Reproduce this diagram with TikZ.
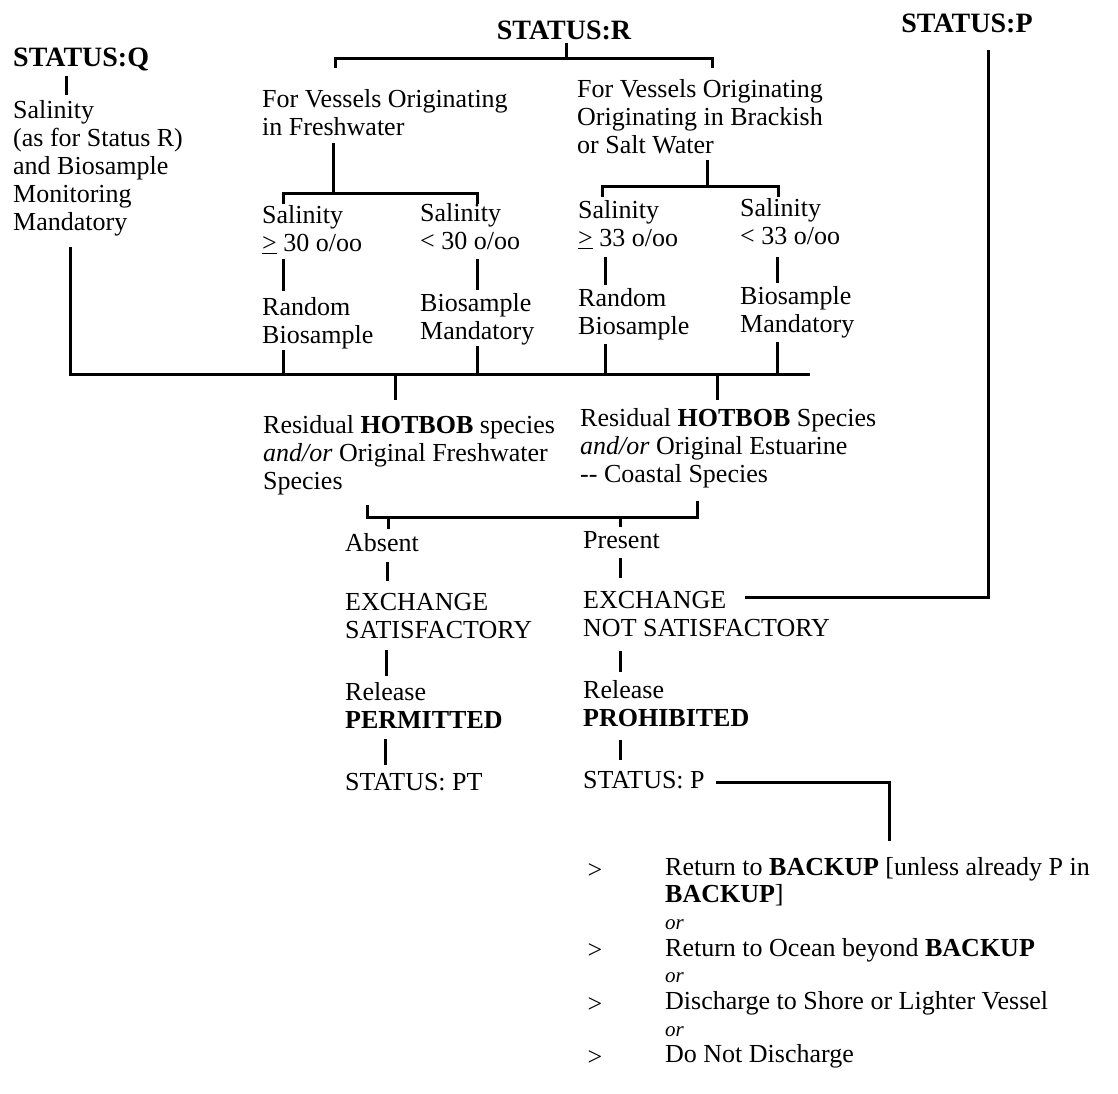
\documentclass[tikz,border=0pt]{standalone}
\usepackage{fontspec}
\setmainfont{Liberation Serif}
\usetikzlibrary{calc}
\begin{document}
\begin{tikzpicture}[x=1pt,y=-1pt,
  ln/.style={line width=3pt, line join=miter},
  txt/.style={anchor=north west, inner sep=0pt, align=left, font=\fontsize{26}{28}\selectfont},
  lst/.style={anchor=north west, inner sep=0pt, align=left, font=\fontsize{26}{26.7}\selectfont},
  hd/.style={inner sep=0pt, font=\fontsize{28}{30}\selectfont\bfseries}]
\useasboundingbox[fill=white] (0,0) rectangle (1118,1093);

% ---------- headings
\node[hd, anchor=west] (sq) at (13,59) {STATUS:Q};
\node[hd] (sr) at (564,30) {STATUS:R};
\node[hd] (sp) at (967,23) {STATUS:P};

% ---------- Status Q branch
\node[txt] (qtxt) at (13,99) {\strut Salinity\\(as for Status R)\\and Biosample\\Monitoring\\Mandatory};
\coordinate (q1) at (66,76);
\coordinate (q2) at (66,95);
\draw[ln] (q1) -- (q2);

% ---------- Status R branch
\node[txt] (fw) at (262,88) {\strut For Vessels Originating\\in Freshwater};
\node[txt] (br) at (577,78) {\strut For Vessels Originating\\Originating in Brackish\\or Salt Water};
\coordinate (r0) at (566,43);
\coordinate (rb) at (566,58);
\coordinate (rbl) at (335,58);
\coordinate (rbr) at (712,58);
\draw[ln] (r0) -- (rb);
\draw[ln] ($(rbl)+(0,10)$) -- (rbl) -- (rbr) -- ($(rbr)+(0,10)$);

% freshwater split
\coordinate (f0) at (333,143);
\coordinate (fb) at (333,193);
\coordinate (fbl) at (283,193);
\coordinate (fbr) at (477,193);
\draw[ln] (f0) -- (fb);
\draw[ln] ($(fbl)+(0,11)$) -- (fbl) -- (fbr) -- ($(fbr)+(0,11)$);

% brackish split
\coordinate (b0) at (707,160);
\coordinate (bb) at (707,186);
\coordinate (bbl) at (602,186);
\coordinate (bbr) at (778,186);
\draw[ln] (b0) -- (bb);
\draw[ln] ($(bbl)+(0,11)$) -- (bbl) -- (bbr) -- ($(bbr)+(0,11)$);

% salinity nodes
\node[txt] (s1) at (262,204) {\strut Salinity\\\underline{>} 30 o/oo};
\node[txt] (s2) at (420,202) {\strut Salinity\\< 30 o/oo};
\node[txt] (s3) at (578,199) {\strut Salinity\\\underline{>} 33 o/oo};
\node[txt] (s4) at (740,197) {\strut Salinity\\< 33 o/oo};

% result nodes
\node[txt] (a1) at (262,296) {\strut Random\\Biosample};
\node[txt] (a2) at (420,292) {\strut Biosample\\Mandatory};
\node[txt] (a3) at (578,287) {\strut Random\\Biosample};
\node[txt] (a4) at (740,285) {\strut Biosample\\Mandatory};

\draw[ln] (283,259) coordinate (t1a) -- (283,291) coordinate (t1b);
\draw[ln] (477,259) coordinate (t2a) -- (477,290) coordinate (t2b);
\draw[ln] (605,257) coordinate (t3a) -- (605,285) coordinate (t3b);
\draw[ln] (777,257) coordinate (t4a) -- (777,283) coordinate (t4b);

% big collecting bar
\coordinate (q3) at (70,247);
\coordinate (gl) at (70,374);
\coordinate (gr) at (810,374);
\draw[ln] (q3) -- (gl) -- (gr);
\draw[ln] (283,350) coordinate (u1) -- (u1 |- gl);
\draw[ln] (477,346) coordinate (u2) -- (u2 |- gl);
\draw[ln] (605,344) coordinate (u3) -- (u3 |- gl);
\draw[ln] (777,342) coordinate (u4) -- (u4 |- gl);
\draw[ln] (395,374) coordinate (d1) -- (395,400) coordinate (d1b);
\draw[ln] (717,374) coordinate (d2) -- (717,400) coordinate (d2b);

% residual species
\node[txt] (rl) at (263,414) {\strut Residual \textbf{HOTBOB} species\\\textit{and/or} Original Freshwater\\Species};
\node[txt] (rr) at (580,407) {\strut Residual \textbf{HOTBOB} Species\\\textit{and/or} Original Estuarine\\-{}- Coastal Species};

% bracket
\coordinate (kl) at (367,517);
\coordinate (kr) at (697,517);
\draw[ln] ($(kl)+(0,-12)$) -- (kl) -- (kr) -- ($(kr)+(0,-16)$);
\draw[ln] (388,517) coordinate (k1) -- (388,529) coordinate (k1b);
\draw[ln] (620,517) coordinate (k2) -- (620,527) coordinate (k2b);

\node[txt] (ab) at (345,532) {\strut Absent};
\node[txt] (pr) at (583,529) {\strut Present};
\draw[ln] (387,562) coordinate (v1) -- (387,581) coordinate (v1b);
\draw[ln] (620,558) coordinate (v2) -- (620,578) coordinate (v2b);

\node[txt] (es) at (345,591) {\strut EXCHANGE\\SATISFACTORY};
\node[txt] (en) at (583,589) {\strut EXCHANGE\\NOT SATISFACTORY};
\coordinate (e1) at (745,597);
\coordinate (e2) at (988,597);
\coordinate (e3) at (988,50);
\draw[ln] (e1) -- (e2) -- (e3);

\draw[ln] (386,650) coordinate (w1) -- (386,676) coordinate (w1b);
\draw[ln] (620,651) coordinate (w2) -- (620,672) coordinate (w2b);

\node[txt] (rp) at (345,681) {\strut Release\\\textbf{PERMITTED}};
\node[txt] (rh) at (583,679) {\strut Release\\\textbf{PROHIBITED}};

\draw[ln] (385,739) coordinate (x1) -- (385,765) coordinate (x1b);
\draw[ln] (620,740) coordinate (x2) -- (620,760) coordinate (x2b);

\node[txt] (spt) at (345,771) {\strut STATUS: PT};
\node[txt] (spp) at (583,769) {\strut STATUS: P};
\coordinate (p1) at (716,782);
\coordinate (p2) at (889,782);
\coordinate (p3) at (889,841);
\draw[ln] (p1) -- (p2) -- (p3);

% options list
\node[lst] (opts) at (665,857) {\strut Return to \textbf{BACKUP} [unless already P in\\\textbf{BACKUP}]\\{\fontsize{21}{22}\selectfont\itshape or}\\Return to Ocean beyond \textbf{BACKUP}\\{\fontsize{21}{22}\selectfont\itshape or}\\Discharge to Shore or Lighter Vessel\\{\fontsize{21}{22}\selectfont\itshape or}\\Do Not Discharge};
\node[txt, anchor=center] (g1) at (595,871) {>};
\node[txt, anchor=center] (g2) at (595,951) {>};
\node[txt, anchor=center] (g3) at (595,1005) {>};
\node[txt, anchor=center] (g4) at (595,1058) {>};
\end{tikzpicture}
\end{document}
